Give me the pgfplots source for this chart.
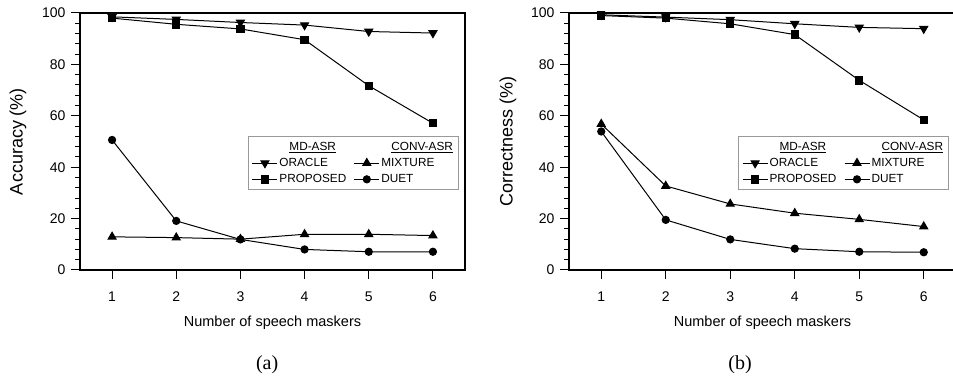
\documentclass[border=0pt]{standalone}
\usepackage{fontspec}
\setmainfont{Liberation Sans}
\newfontfamily\seriffont{Liberation Serif}
\usepackage{pgfplots}
\pgfplotsset{compat=1.18}

\pgfplotsset{
  myaxis/.style={
    scale only axis, height=257pt, clip=false,
    xmin=0.5, xmax=6.5, ymin=0, ymax=100,
    xtick={1,2,3,4,5,6}, ytick={0,20,40,60,80,100},
    minor y tick num=4,
    xtick pos=left, ytick pos=left,
    tick align=outside,
    major tick length=9pt, minor tick length=5pt,
    every tick/.style={black, line width=1pt},
    axis line style={black, line width=1.2pt},
    tick label style={font=\fontsize{14}{16}\selectfont},
    xticklabel style={yshift=-9pt},
    yticklabel style={xshift=-2pt},
    /pgf/number format/assume math mode=true,
    every axis x label/.style={at={(axis description cs:0.5,-0.206)}, anchor=center, font=\fontsize{14.5}{16}\selectfont},
    every axis y label/.style={at={(axis description cs:-0.161,0.5)}, rotate=90, anchor=center, font=\fontsize{18}{20}\selectfont},
    legend style={draw=gray!80, line width=0.8pt, fill=white,
      font=\fontsize{11.8}{13}\selectfont, inner xsep=4pt, inner ysep=4pt,
      row sep=3.5pt,
      /tikz/every even column/.append style={column sep=6pt},
      nodes={inner sep=1.5pt}},
    legend cell align=left,
    legend columns=2,
    legend image code/.code={\draw[mark repeat=2,mark phase=2] plot coordinates {(0pt,0pt) (12.5pt,0pt) (25pt,0pt)};},
    every axis plot/.append style={black, line width=1pt, mark options={fill=black, solid}},
  },
  header/.style={draw opacity=0, mark=none},
  oracle/.style={mark=triangle*, mark size=4.6pt, mark options={rotate=180}},
  mixture/.style={mark=triangle*, mark size=4.6pt},
  proposed/.style={mark=square*, mark size=3.7pt},
  duet/.style={mark=*, mark size=3.6pt},
}

\begin{document}
\begin{tikzpicture}
% ---------- (a) ----------
\begin{axis}[myaxis, width=385pt, at={(80pt,107pt)}, anchor=south west,
  xlabel={Number of speech maskers}, ylabel={Accuracy (\%)},
  legend style={at={(axis description cs:0.984,0.521)}, anchor=north east}]
\addlegendimage{header}\addlegendentry{\hspace*{10pt}\underline{MD-ASR}}
\addlegendimage{header}\addlegendentry{\hspace*{10pt}\underline{CONV-ASR}}
\addplot[oracle] coordinates {(1,98.5) (2,97.5) (3,96.3) (4,95.3) (5,92.8) (6,92.2)};
\addlegendentry{ORACLE}
\addplot[mixture] coordinates {(1,12.9) (2,12.6) (3,12.0) (4,13.9) (5,13.9) (6,13.4)};
\addlegendentry{MIXTURE}
\addplot[proposed] coordinates {(1,98.0) (2,95.6) (3,93.8) (4,89.6) (5,71.7) (6,57.1)};
\addlegendentry{PROPOSED}
\addplot[duet] coordinates {(1,50.6) (2,19.1) (3,11.9) (4,8.0) (5,7.1) (6,7.1)};
\addlegendentry{DUET}
\node[font=\seriffont\fontsize{20}{22}\selectfont] at (axis description cs:0.486,-0.37) {(a)};
\end{axis}
% ---------- (b) ----------
\begin{axis}[myaxis, width=387pt, at={(569pt,107pt)}, anchor=south west,
  xlabel={Number of speech maskers}, ylabel={Correctness (\%)},
  every axis y label/.style={at={(axis description cs:-0.158,0.5)}, rotate=90, anchor=center, font=\fontsize{18}{20}\selectfont},
  legend style={at={(axis description cs:0.982,0.521)}, anchor=north east}]
\addlegendimage{header}\addlegendentry{\hspace*{10pt}\underline{MD-ASR}}
\addlegendimage{header}\addlegendentry{\hspace*{10pt}\underline{CONV-ASR}}
\addplot[oracle] coordinates {(1,99.3) (2,98.4) (3,97.4) (4,95.8) (5,94.4) (6,93.9)};
\addlegendentry{ORACLE}
\addplot[mixture] coordinates {(1,56.8) (2,32.7) (3,25.7) (4,22.1) (5,19.7) (6,16.9)};
\addlegendentry{MIXTURE}
\addplot[proposed] coordinates {(1,99.0) (2,98.0) (3,95.8) (4,91.6) (5,73.8) (6,58.4)};
\addlegendentry{PROPOSED}
\addplot[duet] coordinates {(1,53.9) (2,19.5) (3,11.9) (4,8.3) (5,7.1) (6,6.9)};
\addlegendentry{DUET}
\node[font=\seriffont\fontsize{20}{22}\selectfont] at (axis description cs:0.442,-0.37) {(b)};
\end{axis}
\pgfresetboundingbox
\path[use as bounding box] (0pt,0pt) rectangle (953pt,377pt);
\end{tikzpicture}
\end{document}
